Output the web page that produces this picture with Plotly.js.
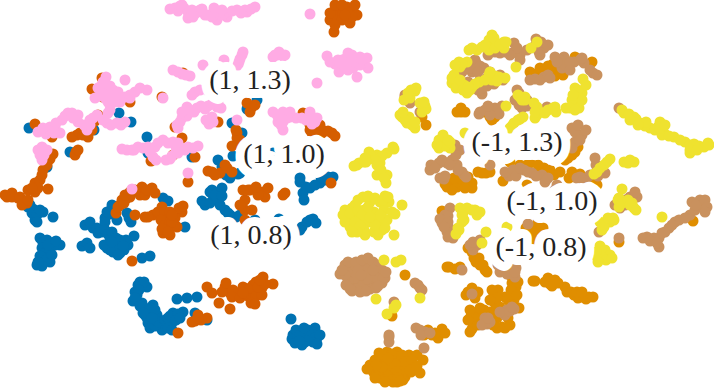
<!DOCTYPE html>
<html><head><meta charset="utf-8">
<script src="https://cdn.plot.ly/plotly-3.0.1.min.js"></script>
<style>html,body{margin:0;padding:0;background:#fff}</style></head>
<body><div id="chart" style="width:714px;height:390px"></div>
<script>
const bluePts=[[29,128],[119,113],[131,122],[147,137],[70,152],[47,167],[94,130],[247,109],[257,100],[232,123],[242,133],[233,156],[222,167],[230,178],[238,174],[273,153],[192,157],[148,153],[212,190],[218,192],[300,178],[333,177],[320,183],[310,188],[303,193],
[30,205],[32,213],[35,220],[43,212],[53,217],[40,238],[45,248],[52,243],[60,245],[48,257],[43,263],[37,265],[50,262],[82,246],[87,243],[90,248],[85,225],[93,228],[102,232],[105,218],[112,208],[117,220],[131,222],[134,236],[110,238],[107,248],[115,245],[122,243],[128,245],[120,253],[113,252],[142,258],[150,256],[185,227],[163,198],[168,201],[202,201],[213,200],[220,205],[230,215],[255,220],[279,219],[304,200],[302,227],[307,222],[313,219],
[140,282],[147,287],[135,292],[133,301],[142,303],[153,305],[145,315],[152,313],[157,315],[148,323],[162,330],[163,323],[172,323],[173,313],[183,312],[177,299],[187,298],[197,297],[195,313],[207,320],
[291,319],[293,335],[302,332],[315,328],[313,342],[302,345],[292,339],[317,338],[307,337],[298,337],
[138,285],[144,282],[137,295],[139,290],[135,298],[140,306],[150,308],[155,310],[147,318],[143,313],[150,328],[155,326],[158,322],[152,318],[165,320],[168,318],[170,316],[178,314],[176,320],[168,328],[172,330],[180,318],
[296,330],[300,335],[305,342],[310,338],[295,343],[312,332],[308,330],[299,341],[320,335],[317,344],[304,328],
[43,243],[47,240],[42,248],[45,253],[55,245],[50,250],[40,256],[46,260],[42,266],[38,262],[52,255],[48,245],[56,241],[28,207],[33,209],[37,215],[40,210],[37,222],
[90,222],[97,228],[98,233],[105,222],[107,212],[110,214],[112,205],[115,212],[105,230],[108,234],[112,232],[116,238],[118,248],[110,250],[104,245],[124,250],[118,255],[126,240],[120,240],[112,242],[123,246],[127,213],[129,218],
[205,205],[210,203],[216,197],[225,210],[228,213],[236,217],[240,215],[300,182],[306,187],[315,185],[325,180],[328,177],[321,177],[300,230],[310,220],[316,223],[218,160],[222,172],[226,175],[240,173],[210,192],[215,195],[222,188],[222,196]];
const vermPts=[[335,10],[347,7],[353,10],[330,20],[338,18],[350,23],[334,32],[343,13],[102,78],[92,89],[118,95],[130,102],[103,97],[35,124],[52,137],[77,135],[88,137],[87,127],[98,115],[76,152],[53,154],[43,170],[35,183],[48,189],[12,193],[28,190],[183,73],[162,97],[175,127],[218,122],[182,138],[151,161],[195,157],[173,155],[188,182],[252,107],[237,133],[238,143],[208,171],[220,173],[227,168],[303,113],[317,123],[312,133],[332,133],[322,133],[331,183],[285,193],[130,192],[142,187],[152,188],[250,190],[263,192],
[18,198],[7,197],[27,203],[116,213],[120,205],[127,198],[135,215],[145,217],[153,215],[162,207],[167,217],[182,212],[175,218],[167,227],[177,227],[163,233],[132,261],[245,200],[245,210],[252,210],[245,220],[265,197],[283,195],[207,287],[212,293],[219,303],[230,309],[225,287],[230,293],[238,293],[248,292],[253,285],[263,277],[273,284],[258,292],[253,300],[195,321],[198,315],[207,318],[178,333],
[330,13],[335,5],[342,5],[348,13],[355,5],[357,15],[342,20],[335,25],[352,17],[345,15],
[222,292],[226,283],[233,290],[232,297],[240,298],[243,287],[248,296],[250,288],[256,282],[256,296],[262,288],[262,295],[258,287],[265,284],[260,280],[243,293],[251,303],[255,304],[192,322],[201,320],[198,318],
[122,200],[130,197],[140,195],[118,207],[124,203],[148,217],[158,212],[165,212],[170,212],[161,220],[165,225],[170,222],[175,225],[179,208],[183,206],[172,222],[170,235],[162,229],[168,232],[172,215],
[5,195],[12,197],[20,197],[22,205],[28,200],[35,192],[40,180],[42,175],[38,188],[32,188],[50,159],[47,165],[72,137],[80,133],[83,135],[92,130],[95,121],[90,125],[75,155],[78,150],
[240,205],[248,190],[243,190],[258,195],[268,188],[256,187],[308,120],[310,125],[315,130],[322,130],[328,131],[335,136],[320,125],[310,130],[315,135],[237,138],[232,146],[240,140],[236,130],[242,145],[212,172],[225,165],[232,172],[215,175],[247,103],[250,112],[255,105],[125,195],[145,195],[135,190],[147,190],[155,193]];
const pinkPts=[[175,8],[182,5],[188,12],[188,18],[200,10],[205,15],[217,12],[217,20],[227,17],[237,10],[247,12],[255,7],[310,14],[327,56],[335,64],[339,72],[342,60],[348,53],[355,58],[353,68],[317,83],[360,57],[367,58],[368,68],[357,77],[242,55],[239,62],[277,55],[273,57],[224,60],[203,65],[173,70],[182,74],[190,76],[195,92],[207,90],
[106,77],[125,80],[98,88],[113,90],[95,98],[117,98],[108,102],[110,110],[130,98],[140,88],[147,90],[163,98],[38,132],[50,127],[60,133],[62,120],[68,113],[78,115],[78,122],[90,120],[97,115],[87,130],[107,123],[117,123],[125,122],[40,155],[47,150],[42,147],
[187,107],[197,108],[208,106],[217,107],[182,118],[177,125],[212,117],[209,124],[127,150],[138,147],[148,147],[153,157],[163,140],[173,142],[180,148],[188,147],[198,146],[170,159],[188,173],[132,189],[237,120],[273,112],[283,112],[278,122],[290,117],[283,130],[302,118],[312,117],[315,122],
[170,9],[178,11],[184,8],[192,10],[196,13],[202,9],[208,15],[212,17],[214,8],[221,15],[224,14],[232,11],[241,13],[245,10],[251,9],[193,17],[222,10],[180,6],
[44,130],[55,127],[56,123],[65,116],[72,113],[73,118],[84,125],[93,118],[90,125],[46,134],[54,133],[43,128],
[103,82],[100,87],[105,90],[110,86],[118,92],[112,96],[101,96],[106,99],[120,102],[125,97],[130,95],[135,92],[110,105],[108,113],[115,102],[111,125],[121,125],[103,120],[38,150],[44,155],[42,160],
[180,122],[185,113],[190,110],[194,112],[201,106],[205,109],[212,104],[218,103],[221,108],[187,116],[182,112],[213,122],[206,120],[178,128],
[132,150],[143,148],[155,147],[158,143],[168,143],[178,143],[150,152],[156,160],[134,150],[122,149],[175,145],[193,148],[185,150],[178,153],[172,156],[166,160],[176,152],
[240,59],[243,52],[279,52],[275,55],[283,56],[285,55],[238,65],[178,72],[186,75],[192,95],[200,90],
[277,115],[280,117],[287,118],[283,122],[296,118],[306,120],[310,112],[317,118],[312,124],[281,125],[290,112],[330,62],[345,59],[352,55],[350,62],[355,63],[360,65],[338,60],[343,65],[348,70],[362,60]];
const orangePts=[[592,62],[575,57],[530,72],[539,72],[550,68],[559,72],[457,112],[465,112],[490,117],[495,117],[422,117],[426,125],[452,183],[464,183],[472,183],[457,187],[482,173],[503,181],[527,165],[544,168],[554,175],[569,178],[575,152],[565,160],[575,177],[537,173],[527,185],[597,185],
[442,211],[472,252],[479,258],[485,270],[449,267],[460,267],[405,275],[509,272],[534,228],[539,230],[532,238],[533,281],[545,282],[552,286],[555,280],[565,287],[574,295],[582,297],[589,297],[512,283],[514,293],[505,297],[494,295],[494,302],[514,300],[519,308],[504,312],[472,293],[472,288],[490,312],[477,312],[470,318],[494,318],[472,329],[502,327],[497,328],[475,323],[424,335],[432,335],[440,333],[442,329],[392,316],[693,221],[619,242],
[370,365],[379,353],[387,352],[397,352],[409,355],[377,362],[385,362],[394,358],[402,360],[374,373],[382,372],[390,370],[399,368],[407,367],[414,365],[380,378],[389,380],[397,382],[405,377],[420,373],[423,360],[417,355],[385,375],[394,375],
[540,68],[545,70],[553,64],[565,60],[555,76],[563,75],[548,66],[582,60],[461,112],[461,108],[487,112],[492,120],[484,112],[495,110],
[448,181],[447,187],[454,178],[460,178],[468,177],[472,188],[465,188],[452,190],[445,184],[478,172],[486,173],[490,172],[510,162],[520,165],[530,163],[538,165],[540,175],[550,170],[560,172],[572,172],[580,174],[590,180],[570,145],[578,147],[572,155],[568,158],
[468,248],[474,258],[476,262],[480,265],[483,265],[487,272],[447,267],[455,269],[526,228],[543,228],[538,222],[533,232],[534,243],
[535,281],[548,278],[550,284],[558,283],[567,292],[571,292],[578,298],[586,299],[577,292],[582,292],[593,297],
[510,275],[516,287],[518,282],[511,290],[508,300],[517,295],[498,290],[492,290],[497,298],[490,300],[500,307],[511,305],[508,318],[495,310],[484,310],[480,308],[485,315],[475,318],[470,310],[468,320],[478,325],[470,332],[487,322],[497,318],[493,325],[505,328],[510,325],[468,292],[478,292],[475,298],[466,295],[428,330],[438,338],[445,333],[435,333],
[375,360],[383,355],[392,354],[402,355],[405,362],[412,360],[372,370],[378,368],[388,365],[395,364],[402,372],[396,372],[387,375],[378,375],[411,372],[403,380],[393,382],[384,380],[375,378],[410,370],[388,358],[382,367],[392,380],[398,378],[417,366],[385,382],[400,381],[376,365],[367,369]];
const tanPts=[[536,39],[544,48],[539,52],[514,43],[512,53],[520,55],[495,52],[476,63],[484,68],[465,69],[487,78],[502,78],[468,82],[487,86],[482,94],[555,57],[564,57],[574,62],[584,63],[562,68],[593,73],[535,79],[544,77],[519,93],[519,105],[527,106],[547,107],[492,112],[502,106],[479,114],[619,108],[405,97],[410,103],[420,112],[572,128],[582,135],[575,142],[444,140],[460,150],[430,170],[439,163],[447,163],[457,165],[464,175],[444,179],[490,165],[509,176],[524,170],[532,173],[542,175],[545,182],[557,185],[577,178],[587,178],[595,158],[605,173],
[702,207],[692,202],[690,215],[679,220],[669,228],[659,238],[647,237],[659,247],[700,200],[632,200],[615,205],[637,197],[619,238],[599,232],[450,208],[445,220],[449,228],[450,235],[442,223],[477,245],[473,250],[462,270],[472,294],[500,272],[515,277],[507,310],[514,309],[485,318],[487,324],[528,224],
[370,263],[362,268],[377,270],[384,275],[369,275],[360,282],[374,283],[382,283],[362,291],[369,288],[357,275],[345,265],[340,274],[353,290],[352,280],[353,268],[415,283],[422,290],[394,302],[416,328],[425,332],[389,337],[389,342],[424,348],
[345,270],[348,262],[350,275],[356,262],[362,260],[368,258],[373,262],[378,265],[382,270],[385,278],[380,280],[375,277],[367,270],[358,270],[352,285],[358,288],[364,283],[370,289],[376,288],[367,279],[355,278],[348,281],[345,275],[342,270],[346,285],[361,275],[373,270],[352,291],[360,292],[366,291],[383,278],[386,272],[378,286],[350,289],
[505,52],[517,48],[520,60],[527,50],[535,46],[541,42],[548,45],[540,55],[500,53],[510,55],[488,55],[475,60],[480,66],[472,72],[462,72],[470,68],[478,72],[490,72],[494,84],[482,88],[478,90],[500,75],[503,80],[480,80],
[560,60],[565,65],[570,62],[580,60],[557,62],[570,70],[590,70],[597,75],[530,80],[540,80],[548,75],[550,78],[582,58],[517,90],[515,100],[522,108],[530,103],[527,100],[480,112],[495,108],[499,114],[485,110],[490,115],[488,106],
[431,165],[435,168],[442,160],[452,160],[450,165],[462,172],[466,177],[458,170],[440,178],[445,176],[457,152],[456,155],[455,145],
[505,172],[513,170],[516,176],[520,168],[528,172],[536,176],[548,178],[555,190],[560,188],[580,177],[590,175],[583,180],[596,165],[600,170],[598,176],[575,132],[578,125],[586,130],[580,140],[572,148],
[695,210],[685,218],[675,222],[665,232],[672,225],[662,233],[654,238],[643,238],[650,241],[657,243],[696,205],[705,200],[707,207],[705,212],[620,208],[625,205],[630,197],[635,192],[625,200],
[448,216],[445,215],[440,219],[448,222],[447,232],[453,238],[444,227],[448,237],[470,245],[473,242],[480,240],[503,270],[507,274],[498,265],[516,268],[515,272],[505,315],[500,312],[510,311],[512,307],[486,322],[482,325],[490,322],[488,318],[418,285],[420,288],[420,330],[421,335],[430,333],[389,335],[405,95],[408,100]];
const yellowPts=[[492,35],[489,40],[504,42],[497,45],[504,48],[489,50],[477,50],[469,50],[537,42],[531,48],[516,67],[459,62],[467,62],[460,67],[454,75],[452,83],[457,84],[464,85],[467,93],[479,82],[472,87],[489,75],[499,77],[492,80],[520,97],[525,97],[506,106],[537,107],[537,115],[545,113],[555,107],[566,108],[579,108],[577,102],[582,93],[575,88],[583,79],[520,119],[512,126],[409,95],[415,91],[410,98],[425,106],[422,112],[402,117],[409,117],[407,123],[415,128],[445,142],[439,140],[439,148],[450,148],[394,149],[387,153],[377,155],[369,152],[364,162],[359,163],[380,163],[377,175],[387,175],[386,183],
[624,113],[634,117],[640,123],[650,128],[660,122],[664,133],[674,137],[685,142],[699,146],[709,145],[690,153],[624,162],[634,162],[610,159],[604,165],[594,174],[622,189],[465,133],
[370,202],[380,202],[389,202],[364,210],[374,212],[384,210],[360,220],[369,222],[379,220],[387,220],[364,230],[374,232],[382,230],[347,218],[352,208],[350,227],[355,215],[402,205],[395,214],[394,235],[460,208],[472,210],[477,215],[464,220],[459,230],[486,232],[482,243],[384,260],[396,262],[401,260],[376,299],[420,298],[394,308],[387,314],[619,198],[619,207],[632,203],[634,208],[662,217],[614,220],[605,223],[602,230],[600,250],[607,255],[597,257],[507,227],
[482,47],[472,48],[494,38],[485,45],[495,48],[500,44],[506,42],[462,64],[455,65],[455,78],[452,78],[456,88],[460,80],[463,90],[470,90],[475,84],[468,87],[485,80],[495,76],[505,78],[490,72],[497,81],
[518,95],[522,100],[525,100],[535,118],[540,112],[534,103],[535,112],[548,110],[556,112],[553,108],[582,100],[572,100],[578,90],[573,95],[586,85],[570,108],[575,110],[510,128],[514,123],[518,120],[523,117],
[404,100],[411,90],[408,93],[416,88],[426,109],[420,103],[424,102],[400,115],[405,120],[412,125],[415,122],[403,112],[440,145],[445,146],[450,142],[437,145],[443,135],[448,140],
[370,155],[365,158],[382,156],[393,147],[375,160],[377,165],[381,170],[357,165],[354,166],[366,162],[384,178],
[622,110],[629,114],[636,119],[645,126],[655,130],[662,135],[669,136],[680,140],[690,145],[694,144],[704,147],[658,127],[646,122],[630,120],[638,125],[690,150],[697,150],[708,143],[660,128],[665,125],[628,163],[630,160],[607,162],[600,168],[597,172],
[345,210],[343,215],[345,222],[350,213],[355,205],[358,200],[363,197],[368,196],[375,198],[385,196],[358,210],[362,215],[368,207],[380,215],[375,225],[370,217],[355,222],[360,226],[365,235],[378,235],[385,228],[357,232],[352,232],[383,200],[388,197],[392,212],
[463,213],[467,208],[475,210],[480,212],[462,222],[456,234],[458,228],[462,215],[600,222],[610,222],[604,227],[608,218],[613,218],[600,246],[605,250],[610,255],[603,258],[596,252],[606,260],[612,258],[598,262],[618,200],[622,203],[628,200],[630,205],[636,210],[396,305]];
const labelText=["(1, 1.3)","(1, 1.0)","(1, 0.8)","(-1, 1.3)","(-1, 1.0)","(-1, 0.8)"];
const labelX=[250,284,251,517,552,541];
const labelY=[82,156,237,144,203,249];

const mk=(pts,color)=>({type:'scatter',mode:'markers',x:pts.map(p=>p[0]),y:pts.map(p=>p[1]),hoverinfo:'skip',
  marker:{size:11,color:color,line:{width:0}},cliponaxis:false});
const traces=[mk(bluePts,'#0072B2'),mk(vermPts,'#D55E00'),mk(pinkPts,'#FFABE4'),
 mk(orangePts,'#E08E00'),mk(tanPts,'#C9915E'),mk(yellowPts,'#EFE22F'),
 {type:'scatter',mode:'text',x:labelX,y:labelY,text:labelText,textposition:'middle center',hoverinfo:'skip',cliponaxis:false,
  textfont:{family:'Liberation Serif',size:28,color:'#222'}}];
const layout={width:714,height:390,margin:{l:0,r:0,t:0,b:0},showlegend:false,paper_bgcolor:'#fff',plot_bgcolor:'#fff',
 xaxis:{range:[0,714],visible:false,fixedrange:true},yaxis:{range:[390,0],visible:false,fixedrange:true}};
Plotly.newPlot('chart',traces,layout,{displayModeBar:false,staticPlot:true}).then(()=>{
  document.querySelectorAll('.textpoint text').forEach(t=>{
    t.setAttribute('stroke','#fff');t.setAttribute('stroke-width','18');t.setAttribute('stroke-linejoin','round');t.setAttribute('paint-order','stroke');
    t.style.stroke='#fff';t.style.strokeWidth='18px';t.style.strokeLinejoin='round';t.style.paintOrder='stroke';
  });
});
</script></body></html>
